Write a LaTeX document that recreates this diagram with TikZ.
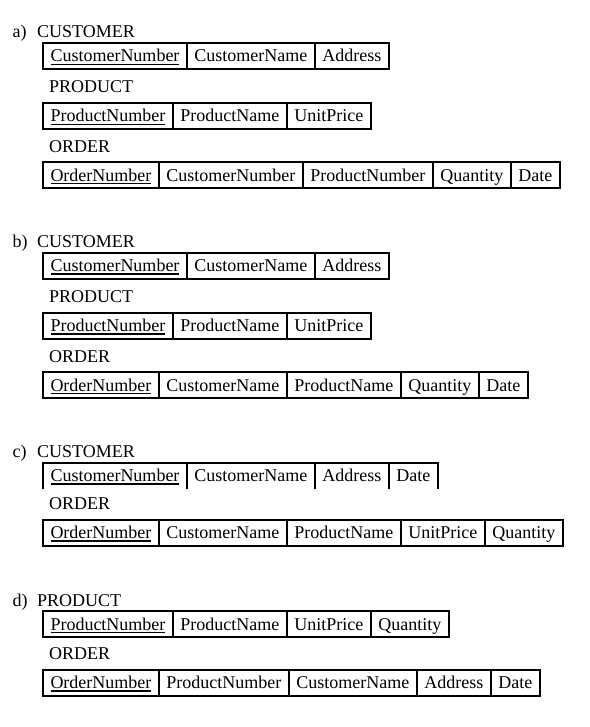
\documentclass[tikz,border=0pt]{standalone}
\usepackage{fontspec}
\setmainfont{Liberation Serif}
\usetikzlibrary{positioning}
\newsavebox{\keybox}
\newcommand{\keyattr}[1]{\sbox{\keybox}{#1}\rlap{\rule[-3.2pt]{\wd\keybox}{1.4pt}}\usebox{\keybox}}
\tikzset{
  attr/.style={draw, line width=2pt, outer sep=0pt, inner xsep=7.5pt,
    inner ysep=0pt, minimum height=26pt, text height=15pt, text depth=3pt,
    font=\fontsize{18}{21}\selectfont},
  title/.style={anchor=base west, inner sep=0pt,
    font=\fontsize{18}{21}\selectfont},
  rule/.style={line width=2pt}
}

\begin{document}
\begin{tikzpicture}[x=1pt,y=-1pt,node distance=0pt]
\useasboundingbox (0,0) rectangle (589,727);

% a)
\node[title] (aL) at (12.5,37.5) {a)};
\node[title] (aT) at (37,37.5) {CUSTOMER};
\node[attr,anchor=west] (aC1) at (43,56) {\keyattr{CustomerNumber}};
\node[attr,right=of aC1] (aC2) {CustomerName};
\node[attr,right=of aC2] (aC3) {Address};
\node[title] (aPT) at (49,92.5) {PRODUCT};
\node[attr,anchor=west] (aP1) at (43,116) {\keyattr{ProductNumber}};
\node[attr,right=of aP1] (aP2) {ProductName};
\node[attr,right=of aP2] (aP3) {UnitPrice};
\node[title] (aOT) at (49,152.5) {ORDER};
\node[attr,anchor=west] (aO1) at (43,175.3) {\keyattr{OrderNumber}};
\node[attr,right=of aO1] (aO2) {CustomerNumber};
\node[attr,right=of aO2] (aO3) {ProductNumber};
\node[attr,right=of aO3] (aO4) {Quantity};
\node[attr,right=of aO4] (aO5) {Date};

% b)
\node[title] (bL) at (12.5,247.5) {b)};
\node[title] (bT) at (37,247.5) {CUSTOMER};
\node[attr,anchor=west] (bC1) at (43,265.5) {\keyattr{CustomerNumber}};
\node[attr,right=of bC1] (bC2) {CustomerName};
\node[attr,right=of bC2] (bC3) {Address};
\node[title] (bPT) at (49,302.5) {PRODUCT};
\node[attr,anchor=west] (bP1) at (43,325.5) {\keyattr{ProductNumber}};
\node[attr,right=of bP1] (bP2) {ProductName};
\node[attr,right=of bP2] (bP3) {UnitPrice};
\node[title] (bOT) at (49,362.5) {ORDER};
\node[attr,anchor=west] (bO1) at (43,385) {\keyattr{OrderNumber}};
\node[attr,right=of bO1] (bO2) {CustomerName};
\node[attr,right=of bO2] (bO3) {ProductName};
\node[attr,right=of bO3] (bO4) {Quantity};
\node[attr,right=of bO4] (bO5) {Date};

% c)
\node[title] (cL) at (12.5,457.5) {c)};
\node[title] (cT) at (37,457.5) {CUSTOMER};
\node[attr,draw=none,anchor=west] (cC1) at (43,475.5) {\keyattr{CustomerNumber}};
\node[attr,draw=none,right=of cC1] (cC2) {CustomerName};
\node[attr,draw=none,right=of cC2] (cC3) {Address};
\node[attr,draw=none,right=of cC3] (cC4) {Date};
\draw[rule] (cC1.south west) -- (cC1.north west) -- (cC4.north east) -- (cC4.south east);
\foreach \n in {1,2,3}
  \draw[rule] (cC\n.north east) -- (cC\n.south east);
\node[title] (cOT) at (49,509.5) {ORDER};
\node[attr,anchor=west] (cO1) at (43,532.5) {\keyattr{OrderNumber}};
\node[attr,right=of cO1] (cO2) {CustomerName};
\node[attr,right=of cO2] (cO3) {ProductName};
\node[attr,right=of cO3] (cO4) {UnitPrice};
\node[attr,right=of cO4] (cO5) {Quantity};

% d)
\node[title] (dL) at (12.5,606.5) {d)};
\node[title] (dT) at (37,606.5) {PRODUCT};
\node[attr,anchor=west] (dP1) at (43,624) {\keyattr{ProductNumber}};
\node[attr,right=of dP1] (dP2) {ProductName};
\node[attr,right=of dP2] (dP3) {UnitPrice};
\node[attr,right=of dP3] (dP4) {Quantity};
\node[title] (dOT) at (49,659.5) {ORDER};
\node[attr,anchor=west] (dO1) at (43,682.5) {\keyattr{OrderNumber}};
\node[attr,right=of dO1] (dO2) {ProductNumber};
\node[attr,right=of dO2] (dO3) {CustomerName};
\node[attr,right=of dO3] (dO4) {Address};
\node[attr,right=of dO4] (dO5) {Date};
\end{tikzpicture}
\end{document}
